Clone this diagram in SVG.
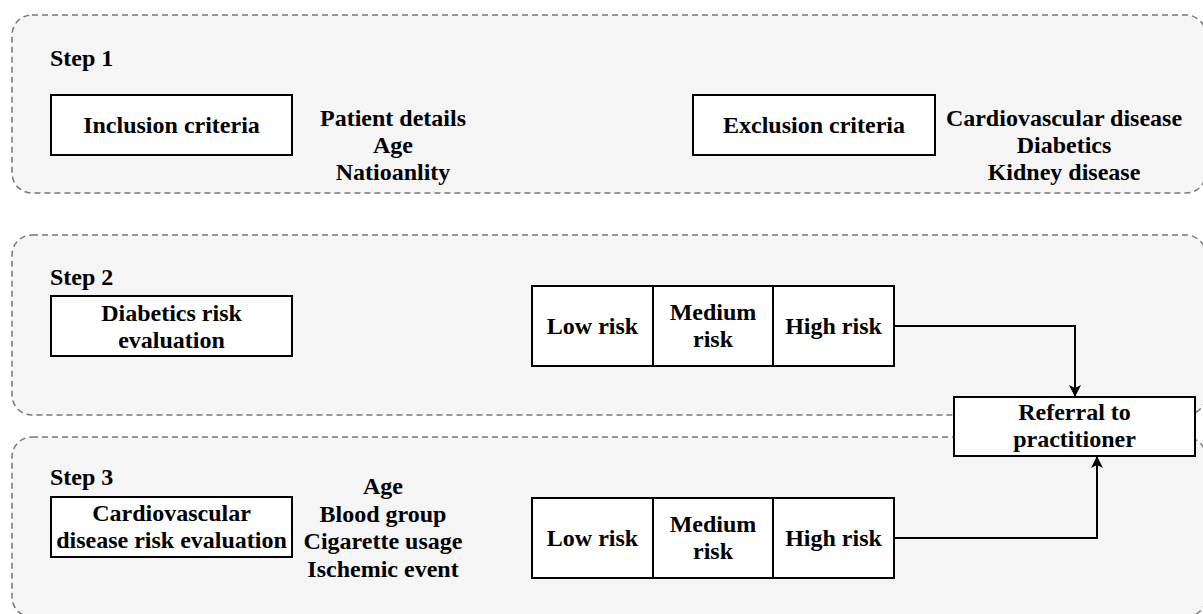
<svg xmlns="http://www.w3.org/2000/svg" width="1203" height="614" viewBox="0 0 1203 614">
<defs>
<style>
.cont{fill:#f5f5f5;stroke:#777;stroke-width:1.5;stroke-dasharray:6 4}
.box{fill:#fff;stroke:#000;stroke-width:2}
text{font-family:"Liberation Serif","Times New Roman",serif;font-weight:bold;font-size:24px;fill:#000}
.c{text-anchor:middle}
.edge{fill:none;stroke:#000;stroke-width:2}
</style>
<marker id="arr" viewBox="0 0 12 12" refX="11" refY="6" markerWidth="12" markerHeight="12" markerUnits="userSpaceOnUse" orient="auto">
<path d="M0,0 L12,6 L0,12 L3,6 z" fill="#000"/>
</marker>
</defs>
<rect width="1203" height="614" fill="#fff"/>
<g id="step1">
<rect class="cont" x="12" y="15" width="1194" height="178" rx="20"/>
<text x="50" y="66">Step 1</text>
</g>
<g id="step2">
<rect class="cont" x="12" y="235" width="1194" height="180" rx="20"/>
<text x="50" y="285">Step 2</text>
</g>
<g id="step3">
<rect class="cont" x="12" y="437" width="1194" height="180" rx="20"/>
<text x="50" y="485">Step 3</text>
</g>
<g id="inclusion">
<rect class="box" x="51" y="95" width="241" height="60"/>
<text class="c" x="171.5" y="133">Inclusion criteria</text>
</g>
<g id="inclusion-items">
<text class="c" x="393" y="126">Patient details</text>
<text class="c" x="393" y="153">Age</text>
<text class="c" x="393" y="180">Natioanlity</text>
</g>
<g id="exclusion">
<rect class="box" x="693" y="95" width="242" height="60"/>
<text class="c" x="814" y="133">Exclusion criteria</text>
</g>
<g id="exclusion-items">
<text class="c" x="1064" y="126">Cardiovascular disease</text>
<text class="c" x="1064" y="153">Diabetics</text>
<text class="c" x="1064" y="180">Kidney disease</text>
</g>
<g id="diabetics-eval">
<rect class="box" x="51" y="296" width="241" height="60"/>
<text class="c" x="171.5" y="321">Diabetics risk</text>
<text class="c" x="171.5" y="348">evaluation</text>
</g>
<g id="risk2-low">
<rect class="box" x="532" y="286" width="121" height="80"/>
<text class="c" x="592.5" y="334">Low risk</text>
</g>
<g id="risk2-medium">
<rect class="box" x="653" y="286" width="120" height="80"/>
<text class="c" x="713" y="320">Medium</text>
<text class="c" x="713" y="347">risk</text>
</g>
<g id="risk2-high">
<rect class="box" x="773" y="286" width="121" height="80"/>
<text class="c" x="833.5" y="334">High risk</text>
</g>
<g id="cardio-eval">
<rect class="box" x="51" y="497" width="241" height="60"/>
<text class="c" x="171.5" y="521">Cardiovascular</text>
<text class="c" x="171.5" y="548">disease risk evaluation</text>
</g>
<g id="cardio-items">
<text class="c" x="383" y="494">Age</text>
<text class="c" x="383" y="521.5">Blood group</text>
<text class="c" x="383" y="549">Cigarette usage</text>
<text class="c" x="383" y="576.5">Ischemic event</text>
</g>
<g id="risk3-low">
<rect class="box" x="532" y="498" width="121" height="80"/>
<text class="c" x="592.5" y="546">Low risk</text>
</g>
<g id="risk3-medium">
<rect class="box" x="653" y="498" width="120" height="80"/>
<text class="c" x="713" y="532">Medium</text>
<text class="c" x="713" y="559">risk</text>
</g>
<g id="risk3-high">
<rect class="box" x="773" y="498" width="121" height="80"/>
<text class="c" x="833.5" y="546">High risk</text>
</g>
<g id="referral">
<rect class="box" x="954" y="397" width="241" height="59"/>
<text class="c" x="1074.5" y="420">Referral to</text>
<text class="c" x="1074.5" y="447">practitioner</text>
</g>
<g id="connectors">
<path class="edge" d="M894,326 H1075 V396" marker-end="url(#arr)"/>
<path class="edge" d="M894,538 H1097 V457" marker-end="url(#arr)"/>
</g>
</svg>
